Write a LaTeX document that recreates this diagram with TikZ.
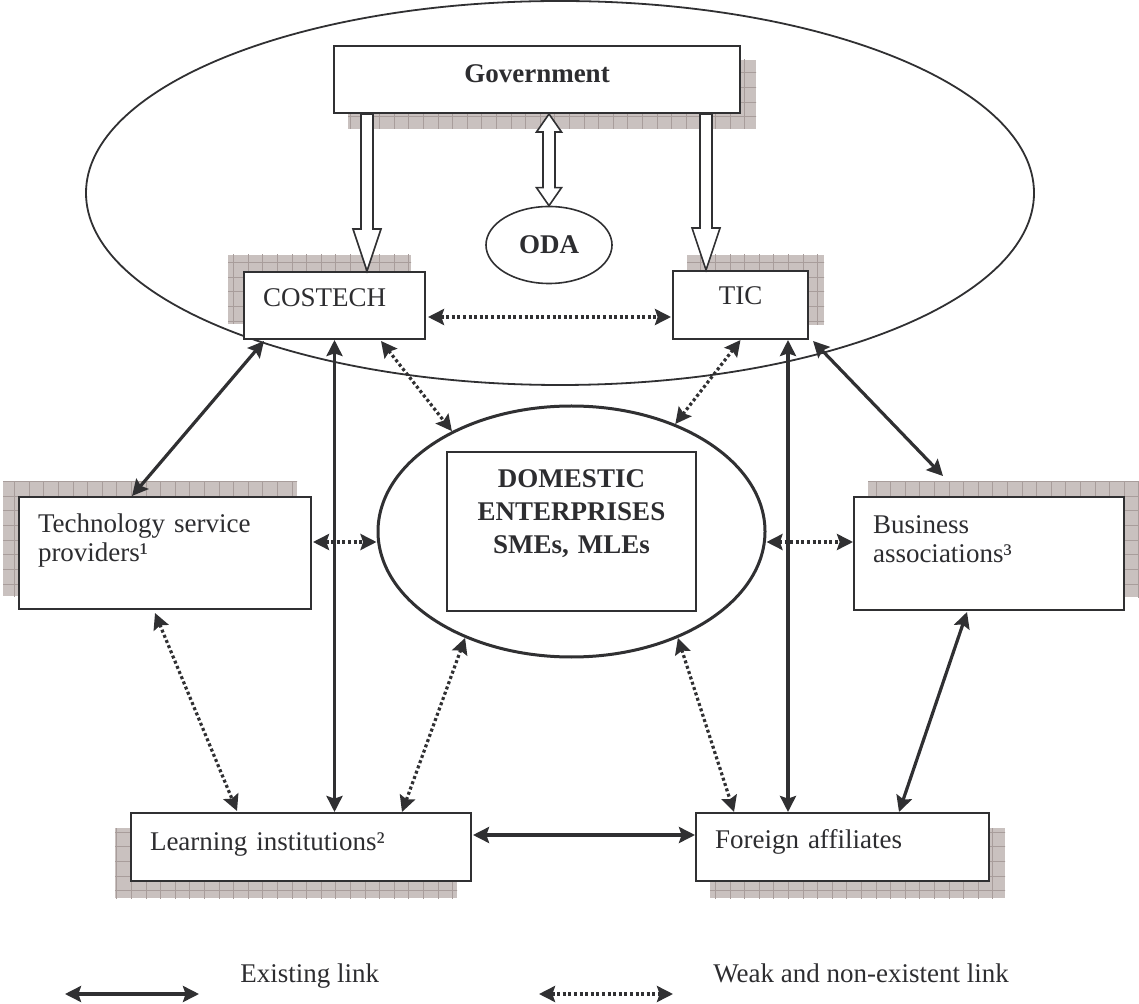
\documentclass[tikz,border=0pt]{standalone}
\usepackage{fontspec}
\setmainfont{Liberation Serif}
\usetikzlibrary{arrows.meta,calc,shapes.geometric}
\definecolor{lc}{RGB}{48,48,50}
\definecolor{tc}{RGB}{45,45,48}
\definecolor{shfill}{RGB}{201,193,191}
\definecolor{shgrid}{RGB}{168,157,155}
\pgfdeclarelayer{bg}
\pgfsetlayers{bg,main}
\newcommand\figfont{\fontsize{13.5}{14.5}\selectfont}
\newcommand\domfont{\fontsize{13.5}{16.25}\selectfont\bfseries}
\newcommand\gridshadow[3]{%
 \begin{pgfonlayer}{bg}
 \begin{scope}
  \clip ($(#1.south west)+(#2,#3)$) rectangle ($(#1.north east)+(#2,#3)$);
  \fill[shfill] ($(#1.south west)+(#2,#3)$) rectangle ($(#1.north east)+(#2,#3)$);
  \draw[shgrid,line width=0.5pt,step=7.3pt] ($(#1.south west)+(#2,#3)+(-20,20)$) grid ($(#1.north east)+(#2,#3)+(20,-20)$);
 \end{scope}
 \end{pgfonlayer}}
\newcommand\hollowdown[2]{%
 \draw[hollow] let \p1=(#1), \p2=(#2) in
  (\x2-3pt,\y1) -- (\x2-3pt,\y2+21pt) -- (\x2-7pt,\y2+21pt) -- (\x2,\y2)
  -- (\x2+7pt,\y2+21pt) -- (\x2+3pt,\y2+21pt) -- (\x2+3pt,\y1) -- cycle;}
\newcommand\hollowboth[2]{%
 \draw[hollow] let \p1=(#1), \p2=(#2) in
  (\x1,\y1) -- (\x1+6.25pt,\y1-9pt) -- (\x1+3pt,\y1-9pt) -- (\x1+3pt,\y2+9pt)
  -- (\x1+6.25pt,\y2+9pt) -- (\x1,\y2) -- (\x1-6.25pt,\y2+9pt) -- (\x1-3pt,\y2+9pt)
  -- (\x1-3pt,\y1-9pt) -- (\x1-6.25pt,\y1-9pt) -- cycle;}
\tikzset{
 box/.style={draw=lc, line width=1pt, fill=white, inner ysep=0pt, inner xsep=9.5pt,
   text=tc, align=left, font=\figfont, text height=9.5pt},
 hollow/.style={draw=lc, line width=0.8pt, fill=white, line join=miter},
 exlink/.style={draw=lc, line width=1.6pt, >={Stealth[length=8pt,width=8pt,inset=1.3pt]}, <->},
 wklink/.style={draw=lc, line width=1.6pt, dash pattern=on 1.5pt off 1.3pt,
   >={Stealth[length=8pt,width=8pt,inset=1.3pt]}, <->},
 legtext/.style={text=tc, font=\figfont, inner sep=0pt}
}
\begin{document}
\begin{tikzpicture}[x=0.5pt,y=-0.5pt]
\useasboundingbox (0,0) rectangle (1139,1004);
% big ellipse
\draw[lc, line width=0.9pt] (560,193) ellipse [x radius=237pt, y radius=96pt];

% nodes
\node[box, align=center, text width=184pt, minimum height=33.5pt, text depth=6pt, font=\figfont\bfseries] (gov) at (537,79.5) {Government};
\node[ellipse, draw=lc, line width=0.8pt, fill=white, minimum width=63pt, minimum height=38.5pt, inner sep=0pt, text=tc, font=\figfont\bfseries] (oda) at (549,245) {ODA};
\node[box, text width=71.5pt, minimum height=33.5pt, text depth=8pt] (cos) at (334.5,305.5) {COSTECH};
\node[box, align=center, text width=48.5pt, minimum height=34pt, text depth=9.5pt] (tic) at (740.5,305) {TIC};
\node[box, text width=127pt, minimum height=56pt, text depth=29.5pt] (tech) at (165,553) {Technology service\\providers¹};
\node[box, text width=116pt, minimum height=56.5pt, text depth=29.5pt] (bus) at (989,553.5) {Business\\associations³};
\node[box, text width=151pt, minimum height=34pt, text depth=6.5pt] (learn) at (301,847) {Learning institutions²};
\node[box, text width=127.5pt, minimum height=34pt, text depth=8.5pt] (fore) at (842.5,847) {Foreign affiliates};
\node[ellipse, draw=lc, line width=1.5pt, fill=white, minimum width=193.5pt, minimum height=125.5pt, inner sep=0pt] (dom) at (571.5,531.5) {};
\node[draw=lc, line width=0.8pt, fill=white, inner sep=0pt, align=center, text width=124.5pt, minimum height=79.5pt, text height=9.5pt, text depth=53pt, text=tc, font=\domfont] (domrect) at (571.5,531.5) {DOMESTIC\\ENTERPRISES\\SMEs, MLEs};

% shadows
\gridshadow{gov}{15}{15}
\gridshadow{cos}{-15}{-16}
\gridshadow{tic}{15}{-15}
\gridshadow{tech}{-15}{-14}
\gridshadow{bus}{15}{-14}
\gridshadow{learn}{-15}{16}
\gridshadow{fore}{15}{16}

% hollow arrows from Government
\hollowdown{$(gov.south west)+(34,0)$}{$(cos.north west)+(124,0)$}
\hollowdown{$(gov.south west)+(373,0)$}{$(tic.north west)+(34,0)$}
\hollowboth{$(gov.south)+(12,0)$}{oda.north}

% connectors
\draw[wklink] ($(cos.east)+(2,11.5)$) -- ($(tic.west)+(-1,12)$);
\draw[exlink] ($(cos.south west)+(21,1)$) -- ($(tech.north west)+(114,0)$);
\draw[exlink] (cos.south) -- (cos.south |- learn.north);
\draw[wklink] ($(cos.south east)+(-45,1)$) -- (dom.140);
\draw[wklink] (tic.south) -- (dom.46);
\coordinate (t1) at ($(tic.south east)+(-21,0)$);
\draw[exlink] (t1) -- (t1 |- fore.north);
\draw[exlink] ($(tic.south east)+(4,1)$) -- ($(bus.north west)+(90,-20)$);
\coordinate (t2) at ($(tech.east)+(1,-11)$);
\draw[wklink] (t2) -- (t2 -| dom.west);
\coordinate (t3) at ($(bus.west)+(0,-11.5)$);
\draw[wklink] (t3 -| dom.east) -- (t3);
\draw[wklink] ($(tech.south west)+(137,3)$) -- ($(learn.north west)+(107,-1)$);
\draw[wklink] (dom.225) -- ($(learn.north west)+(272,0)$);
\draw[wklink] (dom.315) -- ($(fore.north west)+(39,0)$);
\draw[exlink] ($(bus.south west)+(114,1)$) -- ($(fore.north west)+(204,0)$);
\coordinate (t4) at ($(learn.east)+(1,-12)$);
\draw[exlink] (t4) -- (t4 -| fore.west);

% legend
\coordinate (la1) at (65,994);
\coordinate (la2) at (199,994);
\coordinate (lb1) at (539,994);
\coordinate (lb2) at (673,994);
\draw[exlink] (la1) -- (la2);
\draw[wklink] (lb1) -- (lb2);
\node[legtext, anchor=base west] (lt1) at (240,982) {Existing link};
\node[legtext, anchor=base west] (lt2) at (713,982) {Weak and non-existent link};
\end{tikzpicture}
\end{document}
